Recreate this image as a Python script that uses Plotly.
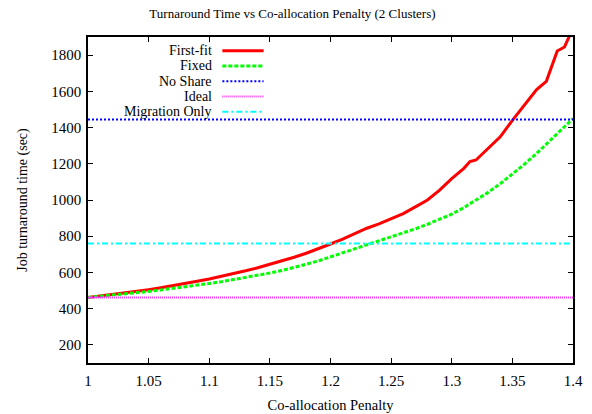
import plotly.graph_objects as go

# ---- data ----
penalty = [1.00, 1.01, 1.02, 1.03, 1.04, 1.05, 1.06, 1.07, 1.08, 1.09,
           1.10, 1.11, 1.12, 1.13, 1.14, 1.15, 1.16, 1.17, 1.18, 1.19,
           1.20, 1.21, 1.22, 1.23, 1.24, 1.25, 1.26, 1.27, 1.28, 1.29,
           1.30, 1.31, 1.315, 1.32, 1.33, 1.34, 1.35, 1.36, 1.37, 1.378,
           1.387, 1.393, 1.397, 1.40]
first_fit = [462, 470, 478, 486, 495, 505, 515, 526, 538, 551,
             564, 578, 593, 609, 626, 644, 663, 684, 706, 730,
             757, 784, 813, 844, 868, 895, 925, 962, 1000, 1055,
             1118, 1175, 1212, 1221, 1285, 1349, 1440, 1525, 1610, 1655,
             1823, 1845, 1900, 1950]

penalty_fixed = [1.00, 1.01, 1.02, 1.03, 1.04, 1.05, 1.06, 1.07, 1.08, 1.09,
                 1.10, 1.11, 1.12, 1.13, 1.14, 1.15, 1.16, 1.17, 1.18, 1.19,
                 1.20, 1.21, 1.22, 1.23, 1.24, 1.25, 1.26, 1.27, 1.28, 1.29,
                 1.30, 1.31, 1.32, 1.33, 1.34, 1.35, 1.36, 1.37, 1.38, 1.39,
                 1.40]
fixed = [462, 468, 474, 481, 488, 495, 503, 511, 520, 529,
         539, 549, 560, 572, 584, 597, 611, 626, 645, 664,
         686, 706, 727, 749, 772, 795, 818, 841, 866, 893,
         922, 958, 998, 1042, 1090, 1142, 1198, 1257, 1320, 1385,
         1450]

x_range_pts = [1.0, 1.4]
no_share = [1445, 1445]
ideal = [462, 462]
migration_only = [760, 760]

x_ticks = [1, 1.05, 1.1, 1.15, 1.2, 1.25, 1.3, 1.35, 1.4]
x_tick_text = ["1", "1.05", "1.1", "1.15", "1.2", "1.25", "1.3", "1.35", "1.4"]
y_ticks = [200, 400, 600, 800, 1000, 1200, 1400, 1600, 1800]

series = [
    ("First-fit", penalty, first_fit, "#ff0000", 3, "solid"),
    ("Fixed", penalty_fixed, fixed, "#00ff00", 3, "4px,2px"),
    ("No Share", x_range_pts, no_share, "#0000ff", 2, "2px,2px"),
    ("Ideal", x_range_pts, ideal, "#ff33ff", 2, "1px,1px"),
    ("Migration Only", x_range_pts, migration_only, "#00ffff", 2, "6px,3px,2px,3px"),
]

FONT = "Times New Roman, Liberation Serif, Tinos, serif"
FS = 15

fig = go.Figure()
for name, xs, ys, color, w, dash in series:
    fig.add_trace(go.Scatter(x=xs, y=ys, mode="lines", name=name,
                             line=dict(color=color, width=w, dash=dash),
                             showlegend=False))

# gnuplot-style key: text right-aligned, sample line to its right
key_text_x = 0.258   # paper fraction of plot width
key_line_x0 = 0.277
key_line_x1 = 0.362
key_top = 0.958
key_step = 0.0469
for i, (name, xs, ys, color, w, dash) in enumerate(series):
    yy = key_top - i * key_step
    fig.add_annotation(x=key_text_x, y=yy, xref="paper", yref="paper",
                       text=name, showarrow=False, xanchor="right", yanchor="middle",
                       borderpad=0,
                       font=dict(family=FONT, size=14, color="black"))
    fig.add_shape(type="line", xref="paper", yref="paper",
                  x0=key_line_x0, x1=key_line_x1, y0=yy, y1=yy,
                  line=dict(color=color, width=w, dash=dash))

axis_common = dict(showline=True, linecolor="black", linewidth=1.5, mirror="ticks",
                   ticks="inside", ticklen=5, tickwidth=1, tickcolor="black",
                   showgrid=False, zeroline=False, automargin=False,
                   tickfont=dict(family=FONT, size=FS, color="black"))

fig.update_layout(
    width=592, height=414,
    margin=dict(l=88, r=19, t=37, b=51, autoexpand=False),
    paper_bgcolor="white", plot_bgcolor="white",
    font=dict(family=FONT, size=FS, color="black"),
    title=dict(text="Turnaround Time vs Co-allocation Penalty (2 Clusters)",
               x=0.494, xanchor="center", y=0.968, yanchor="middle",
               font=dict(family=FONT, size=13, color="black")),
    xaxis=dict(range=[1.0, 1.4], tickvals=x_ticks, ticktext=x_tick_text,
               ticklabelstandoff=3,
               title=dict(text="Co-allocation Penalty", standoff=12,
                          font=dict(family=FONT, size=14.5, color="black")),
               **axis_common),
    yaxis=dict(range=[100, 1900], tickvals=y_ticks,
               ticklabelstandoff=2,
               title=dict(text="Job turnaround time (sec)", standoff=20,
                          font=dict(family=FONT, size=14, color="black")),
               **axis_common),
)

fig.write_html("out.html")
